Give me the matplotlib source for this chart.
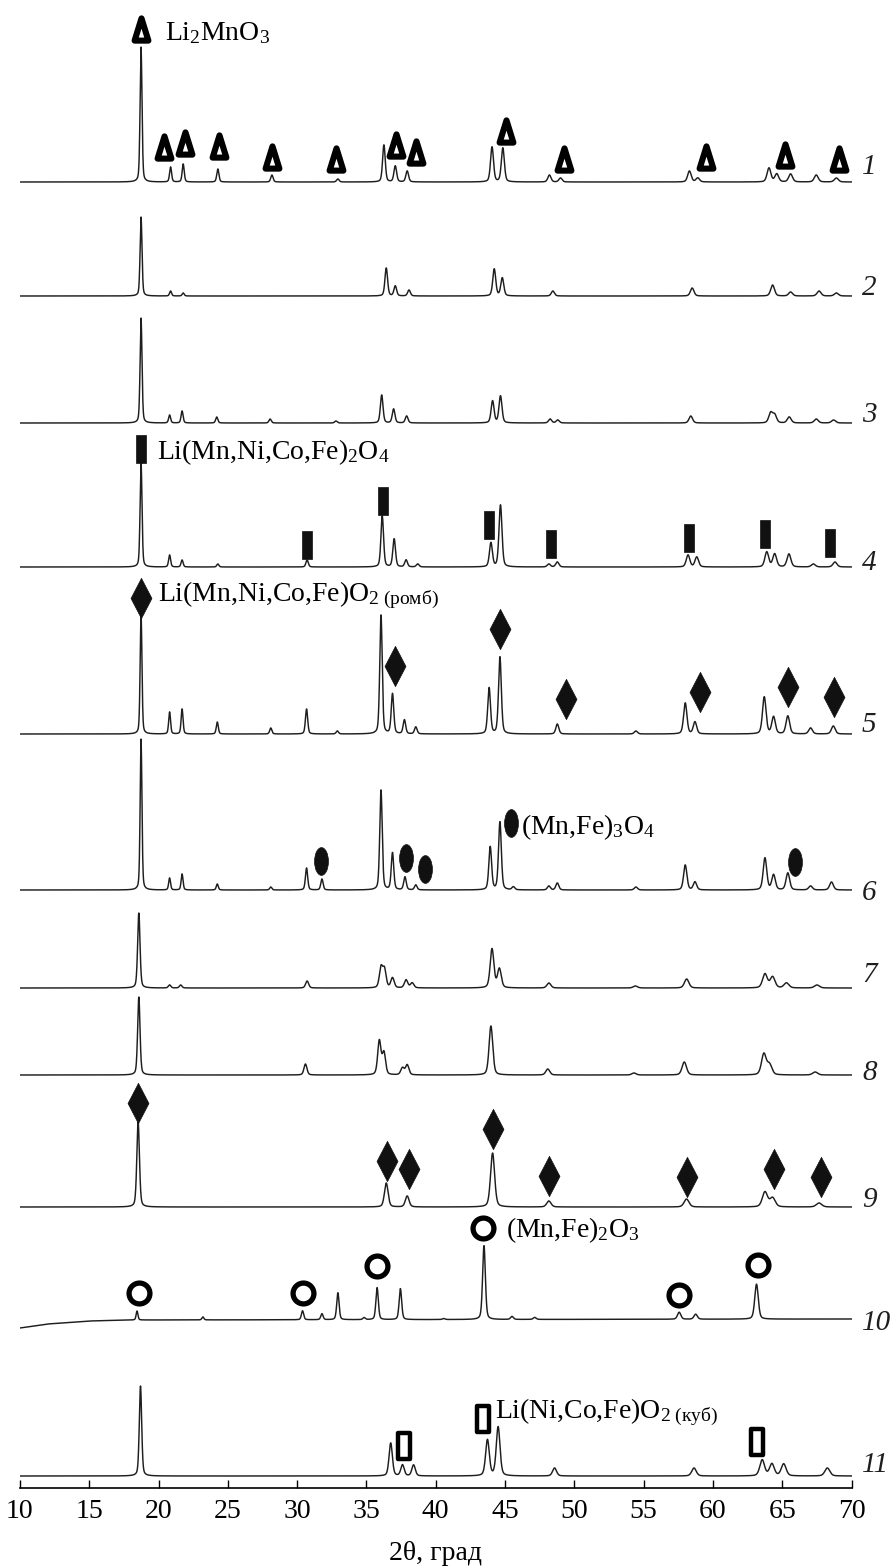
# XRD patterns of samples 1-11, stacked, with phase markers

import numpy as np
import matplotlib
matplotlib.use('Agg')
import matplotlib.pyplot as plt
from matplotlib.markers import MarkerStyle
from matplotlib.path import Path
from matplotlib.transforms import Affine2D

plt.rcParams['font.family'] = ['Liberation Serif', 'DejaVu Serif']
plt.rcParams['mathtext.fontset'] = 'custom'
plt.rcParams['mathtext.rm'] = 'Liberation Serif'
plt.rcParams['mathtext.it'] = 'Liberation Serif:italic'

# Peak positions (2theta, deg) and heights (px)
pos1 = [18.74, 20.87, 21.78, 24.28, 28.18, 32.94, 36.26, 37.08, 37.94, 44.06, 44.84,
        48.2, 49.0, 58.3, 58.9, 64.04, 64.6, 65.6, 67.45, 68.9]
amp1 = [135, 15, 18, 13, 7, 3, 37, 16, 11, 35, 34, 7, 4, 11, 4, 14, 8, 8, 7, 4]

pos2 = [18.74, 20.87, 21.78, 36.43, 37.08, 38.07, 44.22, 44.8, 48.45, 58.5, 64.3,
        65.6, 67.65, 68.9]
amp2 = [79, 5, 3, 28, 10, 6, 27, 18, 5, 8, 11, 4, 5, 3]

pos3 = [18.74, 20.8, 21.7, 24.2, 28.05, 32.8, 36.1, 36.96, 37.9, 44.1, 44.67, 48.25,
        48.8, 58.4, 64.16, 64.45, 65.5, 67.45, 68.7]
amp3 = [105, 8, 12, 6, 4, 2, 28, 14, 7, 22, 27, 4, 3, 7, 10, 8, 6, 4, 3]

pos4 = [18.74, 20.8, 21.7, 24.28, 30.72, 36.14, 37.0, 37.86, 38.7, 43.98, 44.67,
        48.16, 48.77, 58.2, 58.83, 63.88, 64.45, 65.48, 67.24, 68.8]
amp4 = [105, 12, 7, 3, 7, 51, 28, 7, 3, 24, 62, 3, 5, 12, 10, 15, 13, 13, 3, 5]

pos5 = [18.74, 20.8, 21.7, 24.24, 28.1, 30.68, 32.9, 36.05, 36.88, 37.74, 38.56,
        43.85, 44.63, 48.77, 54.44, 58.0, 58.7, 63.7, 64.37, 65.4, 67.04, 68.68]
amp5 = [121, 22, 25, 12, 6, 25, 3, 119, 40, 14, 7, 46, 77, 10, 3, 31, 12, 37, 17,
        18, 6, 8]

pos6 = [18.74, 20.8, 21.7, 24.24, 28.1, 30.68, 31.79, 36.05, 36.88, 37.78, 38.56,
        43.93, 44.63, 45.6, 48.16, 48.77, 54.44, 58.0, 58.7, 63.75, 64.37, 65.4,
        67.04, 68.55]
amp6 = [151, 12, 16, 6, 3, 22, 11, 100, 37, 13, 5, 43, 68, 3, 4, 7, 3, 25, 8, 32,
        15, 17, 4, 8]

pos7 = [18.58, 20.8, 21.6, 30.72, 36.05, 36.3, 36.88, 37.86, 38.3, 44.06, 44.59,
        48.16, 54.4, 58.1, 63.75, 64.3, 65.3, 67.5]
amp7 = [75, 3, 3, 7, 20, 18, 10, 8, 5, 39, 19, 5, 2, 9, 14, 11, 5, 3]

pos8 = [18.58, 30.6, 35.93, 36.26, 37.6, 37.94, 43.98, 48.08, 54.3, 57.93, 63.67,
        64.08, 67.37]
amp8 = [78, 11, 34, 22, 7, 10, 49, 6, 2, 13, 21, 10, 3]

pos9 = [18.53, 36.43, 37.94, 44.1, 48.16, 58.09, 63.75, 64.3, 67.65]
amp9 = [85, 24, 11, 54, 6, 8, 15, 9, 4]

pos10 = [18.45, 23.2, 30.39, 31.79, 32.94, 34.83, 35.77, 37.45, 40.57, 43.48, 45.5,
         47.14, 57.56, 58.75, 63.14]
amp10 = [9, 3, 9, 6, 27, 2, 32, 31, 1, 74, 3, 2, 7, 5, 35]

pos11 = [18.7, 36.75, 37.6, 38.4, 43.73, 44.5, 48.57, 58.63, 63.55, 64.25, 65.1, 68.25]
amp11 = [90, 33, 11, 11, 36, 49, 8, 8, 16, 12, 12, 8]

# curved background at the start of pattern 10 (px below baseline)
bg10_x = [10, 11, 12, 13.5, 15, 18, 70]
bg10_y = [9, 7, 5, 3.5, 2, 1, 0]

labels = ['1', '2', '3', '4', '5', '6', '7', '8', '9', '10', '11']

# phase markers
tri_x = [18.74, 20.38, 21.9, 24.36, 28.18, 32.77, 37.16, 38.56, 45.08, 49.27, 59.53, 65.19, 69.09]
sq_x = [18.74, 30.72, 36.18, 43.85, 48.28, 58.25, 63.75, 68.47]
dia5_x = [18.74, 37.08, 44.63, 49.39, 59.03, 65.4, 68.72]
ell_x = [31.75, 37.86, 39.26, 45.45, 65.93]
dia9_x = [18.53, 36.47, 38.1, 44.1, 48.16, 58.13, 64.37, 67.82]
ring_x = [18.62, 30.43, 35.77, 43.44, 57.52, 63.26]
orect_x = [37.74, 43.44, 63.18]

# layout (pixel rows from top of figure)
base = [182, 296, 423, 567, 734, 890, 988, 1075, 1207, 1319, 1476]
label_y = [167, 288, 415, 563, 725, 893, 975, 1073, 1200, 1323, 1465]
width = [0.16, 0.16, 0.16, 0.16, 0.15, 0.15, 0.2, 0.2, 0.22, 0.15, 0.2]
tri_y = [29, 147, 143, 146, 157, 159, 145, 152, 131, 159, 157, 155, 159]
sq_y = [449, 545, 501, 525, 544, 538, 534, 543]
dia5_y = [598, 666, 629, 699, 692, 687, 697]
ell_y = [861, 858, 869, 823, 862]
dia9_y = [1103, 1161, 1169, 1129, 1176, 1177, 1169, 1177]
ring_y = [1293, 1293, 1266, 1228, 1295, 1265]
orect_y = [1446, 1419, 1442]

W, H = 892, 1567
AX_L, AX_R, AX_B = 19.9, 851.6, 1488

fig = plt.figure(figsize=(W / 100, H / 100), dpi=100)
ax = fig.add_axes([AX_L / W, (H - AX_B) / H, (AX_R - AX_L) / W, AX_B / H])
ax.set_xlim(10, 70)
ax.set_ylim(AX_B, 0)


def deg(px):
    return 10 + (px - AX_L) / (AX_R - AX_L) * 60


def profile(x, pos, amp, w0):
    y = np.zeros_like(x)
    for p, a in zip(pos, amp):
        w = w0 * (1 + (p - 18) / 45)
        g = np.exp(-4 * np.log(2) * ((x - p) / w) ** 2)
        l = 1 / (1 + 4 * ((x - p) / w) ** 2)
        y += a * (0.65 * g + 0.35 * l)
    return y


def shape(verts, **kw):
    # closed polygon marker
    return MarkerStyle(Path(verts + [verts[0]], closed=True), **kw)


x = np.linspace(10, 70, 5000)
positions = [pos1, pos2, pos3, pos4, pos5, pos6, pos7, pos8, pos9, pos10, pos11]
heights = [amp1, amp2, amp3, amp4, amp5, amp6, amp7, amp8, amp9, amp10, amp11]

for i in range(11):
    y = base[i] - profile(x, positions[i], heights[i], width[i])
    if i == 9:
        y = y + np.interp(x, bg10_x, bg10_y)
    ax.plot(x, y, color='#1e1e1e', lw=1.05)
    ax.text(deg(862), label_y[i], labels[i], fontsize=21, style='italic',
            ha='left', va='center', color='#1e1e1e')

# marker shapes
tri = shape([(-0.62, -1), (0, 1), (0.62, -1)], joinstyle='round')
rect = shape([(-0.37, -1), (0.37, -1), (0.37, 1), (-0.37, 1)])
dia = shape([(0, -1), (0.52, 0), (0, 1), (-0.52, 0)])
ell = MarkerStyle('o', transform=Affine2D().scale(0.5, 1))
orect = shape([(-0.45, -1), (0.45, -1), (0.45, 1), (-0.45, 1)], joinstyle='miter')

ax.plot(tri_x, tri_y, ls='none', marker=tri, ms=16, mfc='white', mec='black', mew=4.4)
ax.plot(sq_x, sq_y, ls='none', marker=rect, ms=19.5, mfc='#111111', mec='#111111', mew=0.5)
ax.plot(dia5_x, dia5_y, ls='none', marker=dia, ms=29, mfc='#111111', mec='#111111', mew=0.5)
ax.plot(dia9_x, dia9_y, ls='none', marker=dia, ms=29, mfc='#111111', mec='#111111', mew=0.5)
ax.plot(ell_x, ell_y, ls='none', marker=ell, ms=20, mfc='#111111', mec='#111111', mew=0.5)
ax.plot(ring_x, ring_y, ls='none', marker='o', ms=15, mfc='white', mec='black', mew=3.8)
ax.plot(orect_x, orect_y, ls='none', marker=orect, ms=19, mfc='white', mec='black', mew=3.2)

# phase labels
fs = 20
ax.text(deg(165), 33, r'Li$_2$MnO$_3$', fontsize=fs, va='center', ha='left')
ax.text(deg(157), 452, r'Li(Mn,Ni,Co,Fe)$_2$O$_4$', fontsize=fs, va='center', ha='left')
ax.text(deg(158), 595, r'Li(Mn,Ni,Co,Fe)O$_{2\ \mathrm{(ромб)}}$', fontsize=fs,
        va='center', ha='left')
ax.text(deg(521), 827, r'(Mn,Fe)$_3$O$_4$', fontsize=fs, va='center', ha='left')
ax.text(deg(506), 1230, r'(Mn,Fe)$_2$O$_3$', fontsize=fs, va='center', ha='left')
ax.text(deg(495), 1412, r'Li(Ni,Co,Fe)O$_{2\ \mathrm{(куб)}}$', fontsize=fs,
        va='center', ha='left')

# axis: bottom line only, ticks inward
for s in ['left', 'right', 'top']:
    ax.spines[s].set_visible(False)
ax.spines['bottom'].set_linewidth(1.2)
ax.set_yticks([])
ax.set_xticks(range(10, 71, 5))
ax.tick_params(axis='x', direction='in', length=6, width=1, labelsize=20, pad=8)
ax.set_facecolor('none')

fig.text((AX_L + AX_R) / 2 / W, (H - 1553) / H, '2θ, град', fontsize=20,
         ha='center', va='center')

fig.savefig('out.png', dpi=100)
